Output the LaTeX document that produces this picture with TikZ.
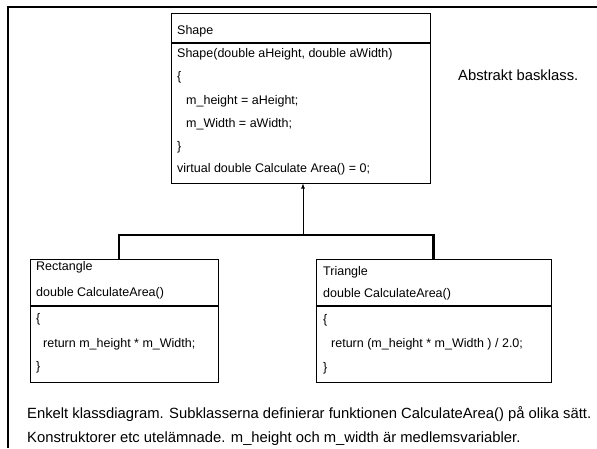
\documentclass[tikz,border=0pt]{standalone}
\usepackage{fontspec}
\setmainfont{Liberation Sans}
\usetikzlibrary{arrows}
\tikzset{
  classbox/.style={draw, line width=0.8pt, inner sep=0pt},
  divider/.style={line width=1.6pt},
  code/.style={anchor=base west, inner sep=0pt, font=\fontsize{12.5}{14}\selectfont},
  caption/.style={anchor=base west, inner sep=0pt, font=\fontsize{14.8}{16}\selectfont},
}
\begin{document}
\begin{tikzpicture}[x=1pt, y=-1pt]
  \useasboundingbox (0,0) rectangle (597,448);
  \draw[line width=2.6pt] (8,448) -- (8,7) -- (597,7);
  \node[classbox, minimum width=259pt, minimum height=170pt] (shape) at (300.5,98) {};
  \node[classbox, minimum width=188pt, minimum height=123pt] (rect) at (124,320.5) {};
  \node[classbox, minimum width=235pt, minimum height=123pt] (tri) at (433.5,320.5) {};
  \draw[divider] (shape.west |- 0,43) -- (shape.east |- 0,43);
  \draw[divider] (rect.west |- 0,306) -- (rect.east |- 0,306);
  \draw[divider] (tri.west |- 0,306) -- (tri.east |- 0,306);
  \node[code] (s1) at (177,34) {Shape};
  \node[code] (s2) at (177,57) {Shape(double aHeight, double aWidth)};
  \node[code] (s3) at (177,80) {\{};
  \node[code] (s4) at (186,104) {m\_height = aHeight;};
  \node[code] (s5) at (186,127) {m\_Width = aWidth;};
  \node[code] (s6) at (177,150) {\}};
  \node[code] (s7) at (177,172) {virtual double Calculate Area() = 0;};
  \node[code] (r1) at (36,270) {Rectangle};
  \node[code] (r2) at (36,296) {double CalculateArea()};
  \node[code] (r3) at (36,322) {\{};
  \node[code] (r4) at (43,347) {return m\_height * m\_Width;};
  \node[code] (r5) at (36,370) {\}};
  \node[code] (t1) at (323,275) {Triangle};
  \node[code] (t2) at (323,297) {double CalculateArea()};
  \node[code] (t3) at (323,323) {\{};
  \node[code] (t4) at (331,347) {return (m\_height * m\_Width ) / 2.0;};
  \node[code] (t5) at (323,371) {\}};
  \node[caption] (note) at (458,80) {Abstrakt basklass.};
  \node[caption] (cap1) at (27,418) {Enkelt klassdiagram. Subklasserna definierar funktionen CalculateArea() på olika sätt.};
  \node[caption] (cap2) at (27,442) {Konstruktorer etc utelämnade. m\_height och m\_width är medlemsvariabler.};
  \coordinate (bar) at (303,235);
  \draw[-latex, line width=0.8pt] (bar) -- (shape.south -| bar);
  \draw[line width=2.2pt] ([xshift=-5pt]rect.north) |- (bar) -| (tri.north);
\end{tikzpicture}
\end{document}
